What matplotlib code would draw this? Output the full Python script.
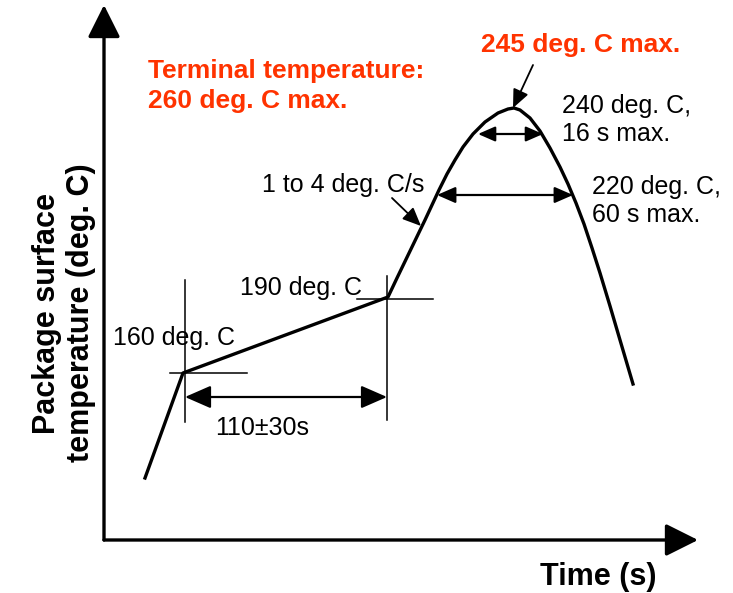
import matplotlib.pyplot as plt

plt.rcParams['font.family'] = ['Liberation Sans', 'DejaVu Sans']

red = '#ff3300'

# reflow profile (diagram units, y grows downward)
profile_x = [145, 183, 388, 397, 411, 425, 439, 447, 455, 463, 473, 485,
             498, 508, 514, 520, 530, 540, 550, 560, 568, 576, 584, 592,
             600, 610, 620, 633]
profile_y = [478, 373, 297, 278, 249, 220, 190, 174, 160, 147, 134, 122,
             113, 109, 108, 110, 118, 131, 148, 167, 184, 203, 224, 248,
             273, 306, 340, 384]

# axes of the sketch
origin = (104, 540)
y_tip = (104, 5)
x_tip = (698, 540)

# marker crosses at 160 and 190 deg. C
mark_x = [185, 387]
mark_y = [373, 299]
mark_v = [(280, 422), (276, 420)]
mark_h = [(170, 247), (357, 433)]

# dimension arrows: (x1, x2, y, head size)
dims = [(185, 387, 397, 20), (478, 543, 134, 13), (437, 573, 195, 14)]

# pointer arrows: (tail, tip)
pointers = [((533, 65), (513, 108)), ((392, 198), (421, 226))]

fig = plt.figure(figsize=(7.33, 5.93), dpi=100)
ax = fig.add_axes([0, 0, 1, 1])
ax.set_xlim(0, 733)
ax.set_ylim(593, 0)
ax.axis('off')

for tip in (y_tip, x_tip):
    ax.annotate('', xy=tip, xytext=origin,
                arrowprops=dict(arrowstyle='-|>,head_length=0.8,head_width=0.4',
                                mutation_scale=25, lw=2.4, color='k',
                                shrinkA=0, shrinkB=0))

ax.plot(profile_x, profile_y, color='k', lw=2.4, solid_joinstyle='round')

for x, (v0, v1) in zip(mark_x, mark_v):
    ax.plot([x, x], [v0, v1], color='k', lw=1.1)
for y, (h0, h1) in zip(mark_y, mark_h):
    ax.plot([h0, h1], [y, y], color='k', lw=1.1)

for x1, x2, y, s in dims:
    ax.annotate('', xy=(x2, y), xytext=(x1, y),
                arrowprops=dict(arrowstyle='<|-|>,head_length=0.8,head_width=0.35',
                                mutation_scale=s, lw=1.6, color='k',
                                shrinkA=0, shrinkB=0))

for tail, tip in pointers:
    ax.annotate('', xy=tip, xytext=tail,
                arrowprops=dict(arrowstyle='-|>,head_length=0.8,head_width=0.35',
                                mutation_scale=14, lw=1.3, color='k',
                                shrinkA=0, shrinkB=0))

fs = 18
ax.text(148, 86, 'Terminal temperature:\n260 deg. C max.', color=red,
        fontsize=19, fontweight='bold', va='center', ha='left', linespacing=1.3)
ax.text(481, 45, '245 deg. C max.', color=red, fontsize=19,
        fontweight='bold', va='center', ha='left')
ax.text(562, 120, '240 deg. C,\n16 s max.', fontsize=fs, va='center',
        ha='left', linespacing=1.25)
ax.text(592, 201, '220 deg. C,\n60 s max.', fontsize=fs, va='center',
        ha='left', linespacing=1.25)
ax.text(262, 185, '1 to 4 deg. C/s', fontsize=fs, va='center', ha='left')
ax.text(240, 288, '190 deg. C', fontsize=fs, va='center', ha='left')
ax.text(113, 338, '160 deg. C', fontsize=fs, va='center', ha='left')
ax.text(215, 428, '110\u00b130s', fontsize=fs, va='center', ha='left')

ax.text(64, 313, 'Package surface\ntemperature (deg. C)', fontsize=22,
        fontweight='bold', rotation=90, va='center', ha='center',
        linespacing=1.15)
ax.text(598, 577, 'Time (s)', fontsize=22, fontweight='bold',
        va='center', ha='center')

fig.savefig('out.png', dpi=100)
